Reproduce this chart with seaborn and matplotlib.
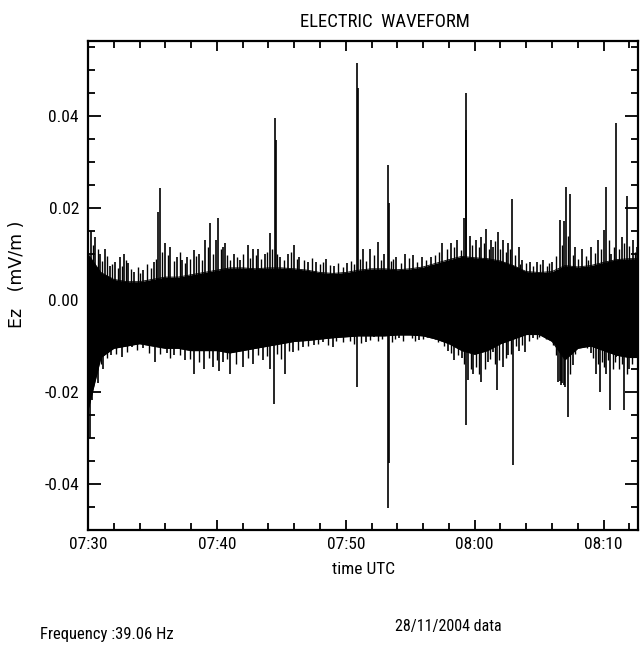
import matplotlib
matplotlib.use("Agg")
import pandas as pd
import seaborn as sns
import matplotlib.pyplot as plt
from matplotlib import font_manager
from matplotlib.ticker import FixedLocator, MultipleLocator

sns.set_theme(style="ticks")

# pick a narrow face if one is around, the original uses a condensed font
installed = {f.name for f in font_manager.fontManager.ttflist}
NARROW = None
for name in ["Liberation Sans Narrow", "Roboto Condensed", "Open Sans Condensed", "DejaVu Sans Condensed"]:
    if name in installed:
        NARROW = name
        break
if NARROW:
    plt.rcParams["font.family"] = [NARROW, "DejaVu Sans"]
    fs_title, fs_tick, fs_text = 13.5, 12.5, 12
else:
    plt.rcParams["font.family"] = ["Liberation Sans", "DejaVu Sans"]
    fs_title, fs_tick, fs_text = 11, 11.5, 10.5

# ---- data (time = minutes after 07:30 UTC, Ez in mV/m) ----
# dense core of the waveform (top / bottom of the solid black band)
t_core = [0, 1, 2, 3, 4, 5, 6, 7, 8, 9, 10, 11, 12, 13, 14, 15, 16, 17, 18, 19, 20, 21,
          22, 23, 24, 25, 26, 27, 28, 29, 30, 31, 32, 33, 34, 35, 36, 37, 38, 39, 40, 41, 42, 42.7]
ez_core_top = [0.0100, 0.0060, 0.0045, 0.0040, 0.0040, 0.0045, 0.0050, 0.0050, 0.0055, 0.0060,
               0.0065, 0.0070, 0.0070, 0.0068, 0.0070, 0.0070, 0.0068, 0.0065, 0.0060, 0.0058,
               0.0060, 0.0065, 0.0068, 0.0068, 0.0066, 0.0068, 0.0072, 0.0080, 0.0088, 0.0095,
               0.0092, 0.0090, 0.0085, 0.0075, 0.0062, 0.0060, 0.0062, 0.0075, 0.0072, 0.0075,
               0.0082, 0.0088, 0.0090, 0.0090]
ez_core_bottom = [-0.0240, -0.0125, -0.0105, -0.0100, -0.0095, -0.0100, -0.0105, -0.0105, -0.0110, -0.0110,
                  -0.0110, -0.0115, -0.0110, -0.0105, -0.0100, -0.0095, -0.0090, -0.0088, -0.0085, -0.0082,
                  -0.0080, -0.0078, -0.0078, -0.0078, -0.0076, -0.0076, -0.0078, -0.0085, -0.0095, -0.0110,
                  -0.0118, -0.0110, -0.0095, -0.0085, -0.0075, -0.0075, -0.0090, -0.0130, -0.0105, -0.0100,
                  -0.0110, -0.0120, -0.0125, -0.0125]

# positive excursions (spikes above the core)
t_up = [0.03, 0.2, 0.54, 0.93, 1.3, 1.7, 2.1, 2.5, 2.8, 3.1, 3.6, 4.3, 5.1, 5.4, 5.58, 6.0, 6.4,
        6.9, 7.3, 7.7, 8.2, 8.6, 9.1, 9.5, 9.9, 10.1, 10.5, 10.6, 11.3, 11.8, 12.4, 12.8, 13.2,
        13.7, 14.1, 14.5, 14.56, 14.9, 15.5, 16.0, 16.4, 17.1, 17.7, 18.5, 19.1, 20.1, 20.85,
        20.92, 21.3, 21.9, 22.5, 23.0, 23.26, 23.32, 23.9, 24.6, 25.2, 25.9, 26.6, 27.5, 28.2,
        28.6, 29.2, 29.3, 29.36, 29.6, 30.1, 30.5, 30.9, 31.3, 31.4, 31.8, 32.2, 32.6, 32.9,
        33.4, 33.7, 34.3, 34.8, 35.3, 36.0, 36.6, 36.9, 37.1, 37.4, 37.8, 38.3, 39.0, 39.6,
        40.0, 40.2, 40.6, 41.0, 41.4, 41.8, 42.3, 42.6]
ez_up = [0.0196, 0.0150, 0.0137, 0.0101, 0.0110, 0.0073, 0.0083, 0.0094, 0.0101, 0.0080, 0.0060,
         0.0065, 0.0083, 0.0192, 0.0243, 0.0123, 0.0116, 0.0094, 0.0087, 0.0094, 0.0109, 0.0101,
         0.0130, 0.0167, 0.0130, 0.0178, 0.0116, 0.0123, 0.0101, 0.0087, 0.0120, 0.0110, 0.0112,
         0.0101, 0.0146, 0.0395, 0.0348, 0.0094, 0.0101, 0.0120, 0.0094, 0.0083, 0.0083, 0.0090,
         0.0073, 0.0080, 0.0515, 0.0460, 0.0112, 0.0110, 0.0127, 0.0101, 0.0293, 0.0210, 0.0094,
         0.0101, 0.0098, 0.0094, 0.0094, 0.0123, 0.0123, 0.0130, 0.0178, 0.0450, 0.0370, 0.0140,
         0.0130, 0.0137, 0.0155, 0.0130, 0.0116, 0.0149, 0.0130, 0.0123, 0.0220, 0.0116, 0.0087,
         0.0083, 0.0083, 0.0087, 0.0083, 0.0174, 0.0171, 0.0246, 0.0230, 0.0116, 0.0110, 0.0116,
         0.0130, 0.0152, 0.0246, 0.0101, 0.0384, 0.0137, 0.0226, 0.0130, 0.0116]

# the small grass of lines along the top edge of the band
t_up_small = [0.4, 0.75, 1.1, 1.5, 1.9, 2.3, 2.65, 2.95, 3.35, 3.85, 4.05, 4.6, 4.85, 5.25, 5.75,
              6.2, 6.65, 7.1, 7.5, 7.95, 8.4, 8.85, 9.3, 9.7, 10.3, 10.8, 11.05, 11.55, 12.05,
              12.6, 13.0, 13.45, 13.9, 14.3, 14.7, 15.2, 15.75, 16.2, 16.75, 17.4, 18.0, 18.25,
              18.8, 19.4, 19.75, 20.4, 20.6, 21.1, 21.6, 22.2, 22.75, 23.5, 23.7, 24.25, 24.9,
              25.55, 26.25, 26.9, 27.2, 27.85, 28.4, 28.9, 29.8, 30.3, 30.7, 31.1, 31.6, 32.0,
              32.4, 32.75, 33.15, 33.55, 34.0, 34.55, 35.05, 35.6, 35.8, 36.3, 36.75, 37.25,
              37.6, 38.05, 38.6, 38.8, 39.3, 39.8, 40.4, 40.8, 41.2, 41.6, 42.0, 42.45]
ez_up_small = [0.0120, 0.0110, 0.0085, 0.0095, 0.0078, 0.0070, 0.0075, 0.0088, 0.0068, 0.0072,
               0.0058, 0.0078, 0.0070, 0.0090, 0.0105, 0.0098, 0.0085, 0.0105, 0.0080, 0.0090,
               0.0095, 0.0088, 0.0115, 0.0100, 0.0110, 0.0098, 0.0088, 0.0094, 0.0100, 0.0092,
               0.0098, 0.0090, 0.0105, 0.0112, 0.0100, 0.0088, 0.0105, 0.0090, 0.0088, 0.0092,
               0.0078, 0.0082, 0.0076, 0.0080, 0.0072, 0.0086, 0.0078, 0.0090, 0.0085, 0.0098,
               0.0088, 0.0085, 0.0090, 0.0080, 0.0092, 0.0082, 0.0088, 0.0098, 0.0105, 0.0110,
               0.0115, 0.0108, 0.0120, 0.0115, 0.0125, 0.0110, 0.0128, 0.0112, 0.0105, 0.0112,
               0.0098, 0.0078, 0.0080, 0.0075, 0.0078, 0.0074, 0.0080, 0.0095, 0.0120, 0.0140,
               0.0098, 0.0090, 0.0095, 0.0088, 0.0102, 0.0112, 0.0130, 0.0115, 0.0110, 0.0125,
               0.0118, 0.0105]

# negative excursions (spikes below the core)
t_down = [0.03, 0.15, 0.3, 0.8, 1.2, 1.8, 2.6, 3.4, 4.3, 5.2, 6.1, 6.7, 7.5, 8.2, 9.0, 9.7, 10.2,
          10.5, 11.0, 12.0, 12.8, 13.6, 14.1, 14.4, 15.3, 15.9, 16.7, 17.5, 18.2, 19.0, 19.5, 20.9,
          21.6, 22.2, 23.3, 23.34, 24.1, 24.8, 25.7, 26.6, 27.4, 27.9, 28.4, 29.0, 29.3, 29.5,
          29.9, 30.5, 31.0, 31.4, 31.7, 32.2, 32.6, 32.97, 33.4, 33.9, 34.5, 35.3, 35.8, 36.5,
          36.6, 36.7, 36.8, 36.9, 37.0, 37.2, 37.6, 38.0, 38.5, 39.0, 39.4, 39.7, 40.2, 40.5,
          41.0, 41.6, 42.0, 42.5]
ez_down = [-0.0380, -0.0300, -0.0217, -0.0180, -0.0150, -0.0120, -0.0123, -0.0102, -0.0105, -0.0134,
           -0.0116, -0.0120, -0.0130, -0.0160, -0.0150, -0.0145, -0.0155, -0.0134, -0.0160, -0.0145,
           -0.0138, -0.0130, -0.0150, -0.0225, -0.0160, -0.0113, -0.0102, -0.0098, -0.0091, -0.0102,
           -0.0080, -0.0190, -0.0091, -0.0080, -0.0452, -0.0355, -0.0083, -0.0073, -0.0087, -0.0073,
           -0.0073, -0.0110, -0.0130, -0.0127, -0.0272, -0.0174, -0.0160, -0.0178, -0.0134, -0.0113,
           -0.0196, -0.0145, -0.0120, -0.0359, -0.0110, -0.0113, -0.0083, -0.0073, -0.0087, -0.0178,
           -0.0175, -0.0185, -0.0180, -0.0185, -0.0190, -0.0254, -0.0141, -0.0073, -0.0091, -0.0116,
           -0.0160, -0.0200, -0.0160, -0.0239, -0.0123, -0.0239, -0.0150, -0.0102]

# the small grass of lines along the bottom edge of the band
t_down_small = [0.5, 1.0, 1.5, 2.2, 3.0, 3.8, 4.7, 5.6, 6.4, 7.1, 7.9, 8.6, 9.35, 10.0, 10.8, 11.5,
                12.4, 13.2, 13.9, 14.7, 15.0, 15.6, 16.3, 17.1, 17.85, 18.6, 19.25, 19.8, 20.3,
                20.6, 21.2, 21.9, 22.5, 22.8, 23.6, 23.8, 24.45, 25.1, 25.4, 26.0, 26.3, 26.9,
                27.15, 27.65, 28.15, 28.7, 29.15, 29.7, 30.1, 30.3, 30.8, 31.2, 31.55, 31.9, 32.4,
                32.8, 33.2, 33.65, 34.2, 34.8, 35.0, 35.55, 36.05, 36.3, 37.4, 37.8, 38.25, 38.75,
                39.2, 39.55, 39.9, 40.0, 40.35, 40.7, 40.85, 41.2, 41.4, 41.8, 42.2, 42.65]
ez_down_small = [-0.0160, -0.0140, -0.0125, -0.0118, -0.0112, -0.0108, -0.0115, -0.0118, -0.0125,
                 -0.0120, -0.0128, -0.0135, -0.0125, -0.0130, -0.0128, -0.0140, -0.0125, -0.0120,
                 -0.0122, -0.0118, -0.0128, -0.0110, -0.0108, -0.0100, -0.0095, -0.0098, -0.0090,
                 -0.0092, -0.0088, -0.0095, -0.0093, -0.0087, -0.0090, -0.0085, -0.0092, -0.0085,
                 -0.0088, -0.0082, -0.0090, -0.0085, -0.0080, -0.0084, -0.0092, -0.0100, -0.0115,
                 -0.0120, -0.0140, -0.0150, -0.0145, -0.0160, -0.0150, -0.0128, -0.0140, -0.0130,
                 -0.0125, -0.0118, -0.0100, -0.0098, -0.0090, -0.0085, -0.0080, -0.0085, -0.0098,
                 -0.0120, -0.0160, -0.0118, -0.0095, -0.0105, -0.0125, -0.0140, -0.0135, -0.0145,
                 -0.0130, -0.0150, -0.0135, -0.0150, -0.0140, -0.0160, -0.0140, -0.0135]

x_ticks = [0, 10, 20, 30, 40]
x_tick_labels = ["07:30", "07:40", "07:50", "08:00", "08:10"]
y_ticks = [-0.04, -0.02, 0.0, 0.02, 0.04]
y_tick_labels = ["-0.04", "-0.02", "0.00", "0.02", "0.04"]

core = pd.DataFrame({"t": t_core, "top": ez_core_top, "bottom": ez_core_bottom})

# ---- figure ----
fig = plt.figure(figsize=(6.4, 6.48), dpi=100)
ax = fig.add_axes([0.1375, 0.182, 0.86, 0.7546])

ax.fill_between(core["t"], core["bottom"], core["top"], color="black", linewidth=0)
sns.lineplot(data=core, x="t", y="top", color="black", linewidth=0.6, ax=ax)
sns.lineplot(data=core, x="t", y="bottom", color="black", linewidth=0.6, ax=ax)
ax.vlines(t_up_small, 0, ez_up_small, color="black", linewidth=1.0)
ax.vlines(t_down_small, 0, ez_down_small, color="black", linewidth=1.0)
ax.vlines(t_up, 0, ez_up, color="black", linewidth=1.2)
ax.vlines(t_down, 0, ez_down, color="black", linewidth=1.2)

ax.set_xlim(0, 42.7)
ax.set_ylim(-0.050, 0.0563)

ax.xaxis.set_major_locator(FixedLocator(x_ticks))
ax.set_xticklabels(x_tick_labels)
ax.xaxis.set_minor_locator(MultipleLocator(2))
ax.yaxis.set_major_locator(FixedLocator(y_ticks))
ax.set_yticklabels(y_tick_labels)
ax.yaxis.set_minor_locator(MultipleLocator(0.005))

ax.tick_params(which="both", direction="in", top=True, right=True, width=1.3, color="black",
               labelsize=fs_tick, labelcolor="black")
ax.tick_params(axis="y", which="major", length=9.5, pad=6.5)
ax.tick_params(axis="y", which="minor", length=5)
ax.tick_params(axis="x", which="major", length=7.5, pad=5)
ax.tick_params(axis="x", which="minor", length=5)

for s in ax.spines.values():
    s.set_visible(True)
    s.set_linewidth(1.6)
    s.set_color("black")

ax.set_xlabel("time UTC", fontsize=fs_text + 0.5, color="black")
ax.xaxis.set_label_coords(0.5, -0.066)
ax.set_ylabel("Ez   (mV/m )", fontsize=12.5, color="black", family="DejaVu Sans")
ax.yaxis.set_label_coords(-0.112, 0.523)

fig.text(300 / 640, 1 - 22 / 648, "ELECTRIC  WAVEFORM", ha="left", va="center",
         fontsize=fs_title, color="black")
fig.text(40 / 640, 1 - 634 / 648, "Frequency :39.06 Hz", ha="left", va="center",
         fontsize=fs_text, color="black")
fig.text(395 / 640, 1 - 626 / 648, "28/11/2004 data", ha="left", va="center",
         fontsize=fs_text - 0.5, color="black")

fig.savefig("out.png", dpi=100, facecolor="white")
